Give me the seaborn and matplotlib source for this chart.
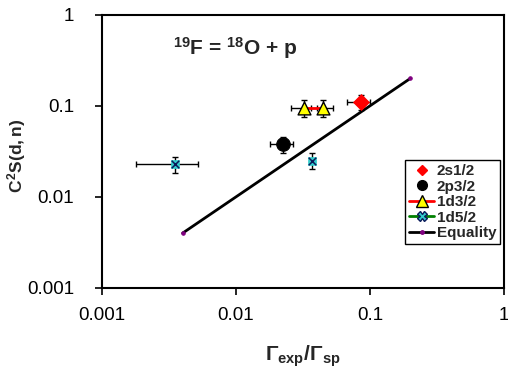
import matplotlib
matplotlib.use("Agg")
import matplotlib.pyplot as plt
from matplotlib.lines import Line2D
import seaborn as sns
import numpy as np

sns.set_theme(style="white")
plt.rcParams['font.family'] = ['Liberation Sans', 'DejaVu Sans']
plt.rcParams['mathtext.fontset'] = 'custom'
plt.rcParams['mathtext.rm'] = 'Liberation Sans:bold'
plt.rcParams['mathtext.bf'] = 'Liberation Sans:bold'
plt.rcParams['mathtext.it'] = 'Liberation Sans:bold'

# Data
s12_x = [0.085]; s12_y = [0.111]
s12_xlo = [0.0676]; s12_xhi = [0.100]
s12_ylo = [0.0904]; s12_yhi = [0.132]

p32_x = [0.0223]; p32_y = [0.038]
p32_xlo = [0.0179]; p32_xhi = [0.0268]
p32_ylo = [0.0307]; p32_yhi = [0.046]

d32_x = [0.0321, 0.0443]; d32_y = [0.0944, 0.0944]
d32_xlo = [0.0256, 0.0400]; d32_xhi = [0.0360, 0.0532]
d32_ylo = [0.0762, 0.0762]; d32_yhi = [0.116, 0.116]

d52_x = [0.0035, 0.0369]; d52_y = [0.0231, 0.025]
d52_xlo = [0.0018, 0.0369]; d52_xhi = [0.0052, 0.0369]
d52_ylo = [0.0185, 0.0201]; d52_yhi = [0.0277, 0.0302]

eq_x = [0.004, 0.2]; eq_y = [0.004, 0.2]

x_ticks = [0.001, 0.01, 0.1, 1]
x_ticklabels = ["0.001", "0.01", "0.1", "1"]
y_ticks = [0.001, 0.01, 0.1, 1]
y_ticklabels = ["0.001", "0.01", "0.1", "1"]

fig = plt.figure(figsize=(5.08, 3.71), dpi=100)
ax = fig.add_axes([0.2008, 0.224, 0.7912, 0.736])

def errs(x, y, xlo, xhi, ylo, yhi):
    x = np.array(x); y = np.array(y)
    return (np.vstack([x - np.array(xlo), np.array(xhi) - x]),
            np.vstack([y - np.array(ylo), np.array(yhi) - y]))

# equality line
sns.lineplot(x=eq_x, y=eq_y, ax=ax, color='black', lw=2, marker='o',
             markersize=2.5, markerfacecolor='#800080', markeredgecolor='#800080', zorder=2)

ekw = dict(fmt='none', ecolor='black', elinewidth=1, capsize=2.5, capthick=1, zorder=3)
for (x, y, xlo, xhi, ylo, yhi) in [(s12_x, s12_y, s12_xlo, s12_xhi, s12_ylo, s12_yhi),
                                    (p32_x, p32_y, p32_xlo, p32_xhi, p32_ylo, p32_yhi),
                                    (d32_x, d32_y, d32_xlo, d32_xhi, d32_ylo, d32_yhi),
                                    (d52_x, d52_y, d52_xlo, d52_xhi, d52_ylo, d52_yhi)]:
    xe, ye = errs(x, y, xlo, xhi, ylo, yhi)
    ax.errorbar(x, y, xerr=xe, yerr=ye, **ekw)

# 1d3/2 connecting line
sns.lineplot(x=d32_x, y=d32_y, ax=ax, color='red', lw=2, zorder=3)

sns.scatterplot(x=s12_x, y=s12_y, ax=ax, marker='D', s=65, color='red', edgecolor='red', zorder=4)
sns.scatterplot(x=p32_x, y=p32_y, ax=ax, marker='o', s=95, color='black', edgecolor='black', zorder=4)
sns.scatterplot(x=d32_x, y=d32_y, ax=ax, marker='^', s=85, color='#FFFF00', edgecolor='black', linewidth=1, zorder=4)
sns.scatterplot(x=d52_x, y=d52_y, ax=ax, marker='s', s=38, color='#33CCCC', edgecolor='#33CCCC', zorder=4)
sns.scatterplot(x=d52_x, y=d52_y, ax=ax, marker='x', s=30, color='#0A1A5A', linewidth=1.1, zorder=5)

ax.set_xscale('log'); ax.set_yscale('log')
ax.set_xlim(0.001, 1); ax.set_ylim(0.001, 1)
ax.set_xticks(x_ticks); ax.set_xticklabels(x_ticklabels)
ax.set_yticks(y_ticks); ax.set_yticklabels(y_ticklabels)
ax.minorticks_off()
ax.tick_params(axis='both', which='major', direction='out', length=5, width=1.2,
               labelsize=13.5, bottom=True, left=True, color='black', labelcolor='black')
ax.tick_params(axis='x', pad=9)
ax.tick_params(axis='y', pad=15)
for sp in ax.spines.values():
    sp.set_color('black'); sp.set_linewidth(1.5)

ax.set_xlabel(r"$\Gamma_{exp}/\Gamma_{sp}$", fontsize=15, labelpad=14)
ax.set_ylabel(r"$C^2S(d,n)$", fontsize=12.5)
ax.yaxis.set_label_coords(-0.184, 0.483)

ax.text(0.177, 0.88, r"$^{19}$F = $^{18}$O + p", transform=ax.transAxes,
        fontsize=15, fontweight='bold', ha='left', va='center')

handles = [
    Line2D([], [], ls='none', marker='D', markersize=5, color='red'),
    Line2D([], [], ls='none', marker='o', markersize=7, color='black'),
    Line2D([], [], ls='-', color='red', lw=2, marker='^', markersize=8,
           markerfacecolor='#FFFF00', markeredgecolor='black'),
    Line2D([], [], ls='-', color='green', lw=2, marker='X', markersize=7,
           markerfacecolor='#33CCCC', markeredgecolor='#0A1A5A'),
    Line2D([], [], ls='-', color='black', lw=2, marker='o', markersize=2.5,
           markerfacecolor='#800080', markeredgecolor='#800080'),
]
labels = ["2s1/2", "2p3/2", "1d3/2", "1d5/2", "Equality"]
leg = ax.legend(handles, labels, loc='upper left', bbox_to_anchor=(0.755, 0.467),
                frameon=True, fancybox=False, framealpha=1, edgecolor='black',
                prop={'weight': 'bold', 'size': 11}, handlelength=1.6,
                handletextpad=0.2, labelspacing=0.1, borderpad=0.25, borderaxespad=0)
leg.get_frame().set_linewidth(1)

fig.savefig("out.png", dpi=100, facecolor='white')
